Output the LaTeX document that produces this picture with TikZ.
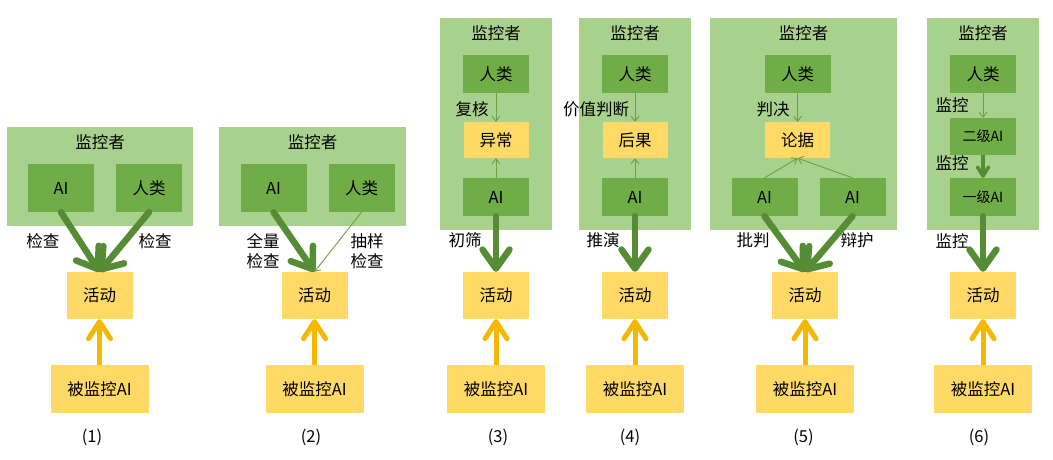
\documentclass[tikz,border=0pt]{standalone}
\usepackage{fontspec}
\setmainfont{Noto Sans CJK SC}
\usetikzlibrary{arrows.meta}

\definecolor{monfill}{HTML}{A9D18E}
\definecolor{aifill}{HTML}{70AD47}
\definecolor{actfill}{HTML}{FFD966}
\definecolor{arrgreen}{HTML}{568C34}
\definecolor{thingreen}{HTML}{6A9F45}
\definecolor{feedcol}{HTML}{F5B800}

\begin{document}
\begin{tikzpicture}[x=1pt,y=-1pt,
    font=\fontsize{16.5}{20}\selectfont,
    monbox/.style={fill=monfill,inner sep=0pt},
    aibox/.style={fill=aifill,inner sep=0pt,minimum width=66pt,minimum height=38pt},
    tallai/.style={aibox,minimum height=48pt},
    actbox/.style={fill=actfill,inner sep=0pt,minimum width=66pt,minimum height=47pt},
    srcbox/.style={actbox,minimum width=98pt,minimum height=48pt},
    notebox/.style={actbox,minimum width=65pt,minimum height=36pt},
    smallai/.style={font=\fontsize{14}{16}\selectfont},
    strongarr/.style={draw=arrgreen,line width=6.5pt,line cap=round,
      -{Straight Barb[length=19pt,width=27pt,round]}},
    midarr/.style={draw=arrgreen,line width=3.5pt,
      -{Straight Barb[length=9pt,width=11pt,round]}},
    lightarr/.style={draw=thingreen,line width=0.9pt,
      -{Straight Barb[length=5pt,width=8pt]}},
    feedarr/.style={draw=feedcol,line width=5pt,
      -{Straight Barb[length=17pt,width=22pt,round]}}]
  \useasboundingbox (0,0) rectangle (1053,459);
  % panel (1)
  \node (mon1)  at (100.0,176.5) [monbox,minimum width=186pt,minimum height=99pt] {};
  \node (mon1t) at (100.0,142.0) {监控者};
  \node (ai1)   at ( 61.0,188.0) [tallai] {AI};
  \node (hum1)  at (149.0,188.0) [tallai] {人类};
  \node (act1)  at ( 99.5,295.5) [actbox] {活动};
  \node (sup1)  at ( 99.5,389.0) [srcbox] {被监控AI};
  \node (cap1)  at ( 92.0,437.0) {(1)};
  \node (chk1a) at ( 43.0,241.0) {检查};
  \node (chk1b) at (155.0,241.0) {检查};
  \draw [strongarr] (ai1.south) -- (act1.north);
  \draw [strongarr] (hum1.south) -- (act1.north);
  \draw [feedarr] (sup1) -- (act1);
  % panel (2)
  \node (mon2)  at (312.5,176.5) [monbox,minimum width=187pt,minimum height=99pt] {};
  \node (mon2t) at (312.5,142.0) {监控者};
  \node (ai2)   at (273.5,188.0) [tallai] {AI};
  \node (hum2)  at (361.5,188.0) [tallai] {人类};
  \node (act2)  at (314.5,295.5) [actbox] {活动};
  \node (sup2)  at (314.5,389.0) [srcbox] {被监控AI};
  \node (cap2)  at (311.0,437.0) {(2)};
  \node (full2) at (263.0,251.0) [align=center] {全量\\检查};
  \node (samp2) at (367.0,251.0) [align=center] {抽样\\检查};
  \draw [strongarr] (ai2.south) -- (act2.north);
  \draw [lightarr] (hum2.south) -- (act2.north);
  \draw [feedarr] (sup2) -- (act2);
  % panel (3)
  \node (mon3)  at (496.0,124.0) [monbox,minimum width=112pt,minimum height=212pt] {};
  \node (mon3t) at (496.0, 33.0) {监控者};
  \node (hum3)  at (496.0, 74.0) [aibox] {人类};
  \node (anom3) at (496.0,140.0) [notebox] {异常};
  \node (ai3)   at (496.0,197.0) [aibox] {AI};
  \node (act3)  at (496.0,295.5) [actbox] {活动};
  \node (sup3)  at (496.0,389.0) [srcbox] {被监控AI};
  \node (cap3)  at (498.0,437.0) {(3)};
  \node (rev3)  at (472.0,109.0) {复核};
  \node (scr3)  at (465.0,240.0) {初筛};
  \draw [lightarr] (hum3) -- (anom3);
  \draw [lightarr] (ai3) -- (anom3);
  \draw [strongarr] (ai3) -- (act3);
  \draw [feedarr] (sup3) -- (act3);
  % panel (4)
  \node (mon4)  at (635.0,124.0) [monbox,minimum width=112pt,minimum height=212pt] {};
  \node (mon4t) at (635.0, 33.0) {监控者};
  \node (hum4)  at (635.0, 74.0) [aibox] {人类};
  \node (cons4) at (635.0,140.0) [notebox] {后果};
  \node (ai4)   at (635.0,197.0) [aibox] {AI};
  \node (act4)  at (635.0,295.5) [actbox] {活动};
  \node (sup4)  at (635.0,389.0) [srcbox] {被监控AI};
  \node (cap4)  at (630.0,437.0) {(4)};
  \node (val4)  at (596.0,109.0) {价值判断};
  \node (ded4)  at (603.0,240.0) {推演};
  \draw [lightarr] (hum4) -- (cons4);
  \draw [lightarr] (ai4) -- (cons4);
  \draw [strongarr] (ai4) -- (act4);
  \draw [feedarr] (sup4) -- (act4);
  % panel (5)
  \node (mon5)  at (803.5,124.0) [monbox,minimum width=187pt,minimum height=212pt] {};
  \node (mon5t) at (803.5, 33.0) {监控者};
  \node (hum5)  at (797.5, 74.0) [aibox] {人类};
  \node (arg5)  at (797.5,140.0) [notebox] {论据};
  \node (ail5)  at (764.5,197.0) [aibox] {AI};
  \node (air5)  at (852.5,197.0) [aibox] {AI};
  \node (act5)  at (805.0,295.5) [actbox] {活动};
  \node (sup5)  at (805.0,389.0) [srcbox] {被监控AI};
  \node (cap5)  at (803.5,437.0) {(5)};
  \node (jud5)  at (773.0,109.0) {判决};
  \node (cri5)  at (753.0,240.0) {批判};
  \node (def5)  at (857.0,240.0) {辩护};
  \draw [lightarr] (hum5) -- (arg5);
  \draw [lightarr] (ail5.north) -- (arg5.south);
  \draw [lightarr] (air5.north) -- (arg5.south);
  \draw [strongarr] (ail5.south) -- (act5.north);
  \draw [strongarr] (air5.south) -- (act5.north);
  \draw [feedarr] (sup5) -- (act5);
  % panel (6)
  \node (mon6)  at (983.0,124.0) [monbox,minimum width=112pt,minimum height=212pt] {};
  \node (mon6t) at (983.0, 33.0) {监控者};
  \node (hum6)  at (983.0, 74.0) [aibox] {人类};
  \node (lv2)   at (983.0,136.5) [aibox,minimum height=37pt,smallai] {二级AI};
  \node (lv1)   at (983.0,197.0) [aibox,smallai] {一级AI};
  \node (act6)  at (983.0,295.5) [actbox] {活动};
  \node (sup6)  at (983.0,389.0) [srcbox] {被监控AI};
  \node (cap6)  at (979.0,437.0) {(6)};
  \node (mona6) at (952.0,105.0) {监控};
  \node (monb6) at (952.0,163.0) {监控};
  \node (monc6) at (952.0,241.0) {监控};
  \draw [lightarr] (hum6) -- (lv2);
  \draw [midarr] (lv2) -- (lv1);
  \draw [strongarr] (lv1) -- (act6);
  \draw [feedarr] (sup6) -- (act6);
\end{tikzpicture}
\end{document}
